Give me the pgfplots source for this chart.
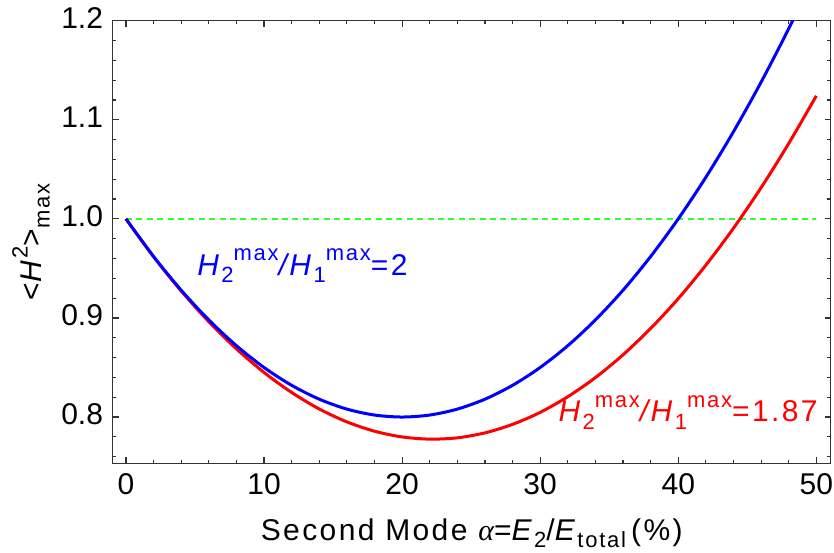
\documentclass[border=0pt]{standalone}
\usepackage{fontspec}
\setmainfont{Liberation Sans}
\newfontfamily\timesfont{Liberation Serif}
\usepackage{pgfplots}
\pgfplotsset{compat=1.18}

% raised / lowered script text in the running font
\newcommand{\supx}[1]{\raisebox{7.2bp}{\fontsize{11bp}{11bp}\selectfont #1}}
\newcommand{\subx}[1]{\raisebox{-3.8bp}{\fontsize{11bp}{11bp}\selectfont #1}}
% slightly opened letter spacing for labels
\newcommand{\ls}{\addfontfeatures{LetterSpace=8}}

\definecolor{mgreen}{rgb}{0.2,1,0.2}

\begin{document}
\begin{tikzpicture}[font=\fontsize{15bp}{18bp}\selectfont]
\path[use as bounding box] (-56.35bp,-44.85bp) rectangle (360.65bp,231.65bp);
\begin{axis}[
  at={(0,0)}, anchor=south west,
  scale only axis, width=359bp, height=221.3bp,
  xmin=-0.96, xmax=51.04, ymin=0.7533, ymax=1.2,
  xtick={0,10,20,30,40,50},
  xticklabels={0,10,20,30,40,50},
  minor xtick={2,4,6,8,12,14,16,18,22,24,26,28,32,34,36,38,42,44,46,48},
  ytick={0.8,0.9,1.0,1.1,1.2},
  yticklabels={0.8,0.9,1.0,1.1,1.2},
  minor ytick={0.76,0.78,0.82,0.84,0.86,0.88,0.92,0.94,0.96,0.98,1.02,1.04,1.06,1.08,1.12,1.14,1.16,1.18},
  /pgf/number format/assume math mode=true,
  major tick length=3bp, minor tick length=1.8bp,
  axis line style={line width=0.75bp, black!80},
  every tick/.style={black!80, line width=0.6bp},
  xticklabel style={yshift=-1.7bp},
  yticklabel style={xshift=-1.35bp, yshift=1.5bp},
  xlabel={\ls Second Mode {\timesfont\itshape α}=\textit{E}\subx{2}/\textit{E}\subx{total}\,(\%)},
  xlabel style={at={(axis description cs:0.5,-0.1735)}, anchor=base},
  ylabel={\ls <\textit{H}\supx{2}>\subx{max}},
  ylabel style={at={(axis description cs:-0.0985,0.5)}, anchor=base, rotate=0},
]
% reference level
\addplot[mgreen, line width=0.75bp, dash pattern=on 3bp off 2.2bp] coordinates {(0,1) (50,1)};
% H2max/H1max = 1.87
\addplot[red, line width=1.5bp, smooth] coordinates {
 (0,1.0000) (2,0.9618) (4,0.9272) (6,0.8962) (8,0.8688) (10,0.8450)
 (12,0.8248) (14,0.8081) (16,0.7951) (18,0.7857) (20,0.7799) (22,0.7777)
 (24,0.7790) (26,0.7840) (28,0.7926) (30,0.8047) (32,0.8205) (34,0.8398)
 (36,0.8628) (38,0.8894) (40,0.9195) (42,0.9533) (44,0.9906) (46,1.0315)
 (48,1.0761) (50,1.1242)};
% H2max/H1max = 2
\addplot[blue, line width=1.5bp, smooth] coordinates {
 (0,1.000) (2,0.962) (4,0.928) (6,0.898) (8,0.872) (10,0.850)
 (12,0.832) (14,0.818) (16,0.808) (18,0.802) (20,0.800) (22,0.802)
 (24,0.808) (26,0.818) (28,0.832) (30,0.850) (32,0.872) (34,0.898)
 (36,0.928) (38,0.962) (40,1.000) (42,1.042) (44,1.088) (46,1.138)
 (48,1.192) (50,1.250)};
\node[blue, anchor=base west, inner sep=0pt] at (axis cs:5.14,0.9433)
  {\ls\textit{H}\subx{2}\supx{max}\textit{/H}\subx{1}\supx{max}=2};
\node[red, anchor=base west, inner sep=0pt] at (axis cs:31.3,0.7953)
  {\ls\textit{H}\subx{2}\supx{max}\textit{/H}\subx{1}\supx{max}=1.87};
\end{axis}
\end{tikzpicture}
\end{document}
